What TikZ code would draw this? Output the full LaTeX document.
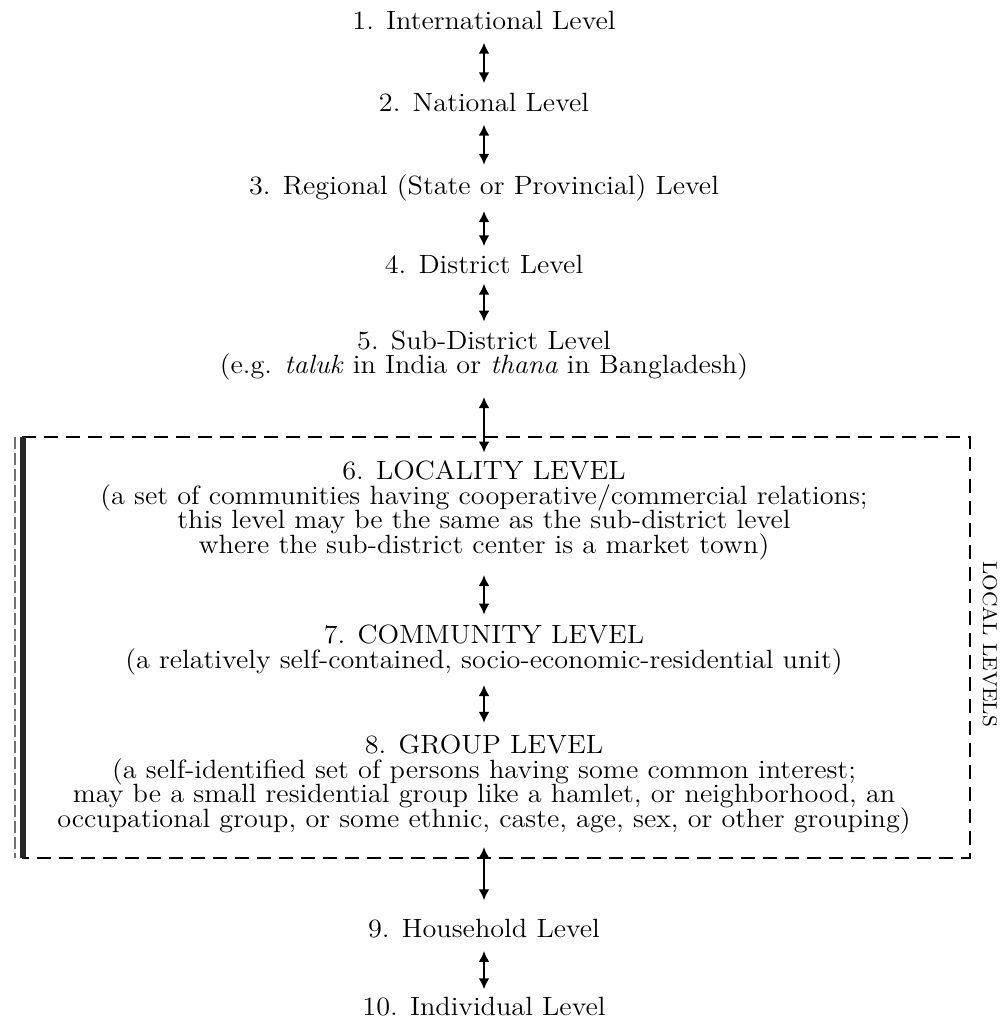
\documentclass[tikz,border=0pt]{standalone}
\usepackage{fontspec}
\setmainfont{Latin Modern Roman}[FakeStretch=1.07]
\usetikzlibrary{arrows.meta}
\newcommand\lvlfont{\fontsize{13.2}{12.2}\selectfont\lineskiplimit -20pt\relax}
\begin{document}
\begin{tikzpicture}[x=0.5pt,y=-0.5pt,
  lvl/.style={font=\lvlfont, align=center, inner sep=0pt, anchor=base},
  link/.style={line width=1.4pt, {Latex[length=5.5pt,width=5.5pt]}-{Latex[length=5.5pt,width=5.5pt]}, shorten <=6pt, shorten >=5pt},
  frame/.style={line width=1.2pt, dash pattern=on 7pt off 4pt},
  sidelabel/.style={font=\fontsize{10}{12}\selectfont, rotate=-90, inner sep=0pt}
  ]
\useasboundingbox (0,0) rectangle (1005,1020);

% anchor=base of a multi-line node is the baseline of its last line
\node[lvl] (t1) at (484,30) {1. International Level};
\node[lvl] (t2) at (484,112) {2. National Level};
\node[lvl] (t3) at (484,195) {3. Regional (State or Provincial) Level};
\node[lvl] (t4) at (484,274) {4. District Level};
\node[lvl] (t5) at (484,374) {5. Sub-District Level\\(e.g. \textit{taluk} in India or \textit{thana} in Bangladesh)};
\node[lvl] (t6) at (484,553) {6. LOCALITY LEVEL\\(a set of communities having cooperative/commercial relations;\\this level may be the same as the sub-district level\\where the sub-district center is a market town)};
\node[lvl] (t7) at (484,668) {7. COMMUNITY LEVEL\\(a relatively self-contained, socio-economic-residential unit)};
\node[lvl] (t8) at (484,827) {8. GROUP LEVEL\\(a self-identified set of persons having some common interest;\\may be a small residential group like a hamlet, or neighborhood, an\\occupational group, or some ethnic, caste, age, sex, or other grouping)};
\node[lvl] (t9) at (484,937) {9. Household Level};
\node[lvl] (t10) at (484,1015) {10. Individual Level};

% local levels frame
\draw[frame] (22,437) -- (970,437) -- (970,858) -- (22,858);
\draw[line width=1pt, black!55, dash pattern=on 6pt off 2pt] (15,437) -- (15,858);
\draw[line width=3.2pt, black!85] (23,437) -- (23,858);
\node[sidelabel] (loc) at (990,644) {LOCAL LEVELS};

\draw[link] (t1) -- (t2);
\draw[link] (t2) -- (t3);
\draw[link, shorten <=4.5pt, shorten >=4.5pt] (t3) -- (t4);
\draw[link, shorten <=4.5pt, shorten >=4.5pt] (t4) -- (t5);
\draw[link, shorten <=8pt, shorten >=4pt] (t5) -- (t6);
\draw[link, shorten <=7.5pt, shorten >=5pt] (t6) -- (t7);
\draw[link, shorten <=5pt, shorten >=6pt] (t7) -- (t8);
\draw[link, shorten <=6.5pt, shorten >=9pt] (t8) -- (t9);
\draw[link, shorten <=6.5pt, shorten >=3.5pt] (t9) -- (t10);
\end{tikzpicture}
\end{document}
